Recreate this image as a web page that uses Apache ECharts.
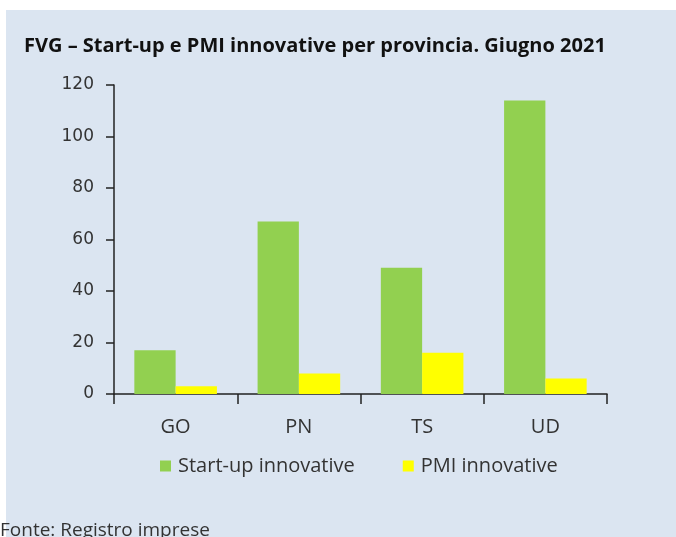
<!DOCTYPE html>
<html>
<head>
<meta charset="utf-8">
<script src="https://cdn.jsdelivr.net/npm/echarts@6/dist/echarts.min.js"></script>
<style>
  html, body { margin: 0; padding: 0; background: #ffffff; }
  #chart { width: 676px; height: 537px; }
</style>
</head>
<body>
<div id="chart"></div>
<script>
// dati
var province = ['GO', 'PN', 'TS', 'UD'];
var startup = [17, 67, 49, 114];
var pmi = [3, 8, 16, 6];
var yTicks = [0, 20, 40, 60, 80, 100, 120];

var myChart = echarts.init(document.getElementById('chart'));
var option = {
  backgroundColor: '#ffffff',
  animation: false,
  textStyle: { fontFamily: 'Open Sans' },
  graphic: [
    {
      type: 'rect',
      z: -10,
      shape: { x: 6, y: 10, width: 670, height: 527 },
      style: { fill: '#dbe5f1' }
    },
    {
      type: 'text',
      left: 0,
      top: 521,
      style: {
        text: 'Fonte: Registro imprese',
        font: '19px "Open Sans"',
        fill: '#333333'
      }
    }
  ],
  title: {
    text: 'FVG – Start-up e PMI innovative per provincia. Giugno 2021',
    left: 19,
    top: 31,
    textStyle: {
      fontFamily: 'Open Sans',
      fontSize: 20,
      fontWeight: 'bold',
      color: '#111111'
    }
  },
  legend: {
    top: 451,
    left: 155,
    itemWidth: 11,
    itemHeight: 11,
    itemGap: 48,
    icon: 'rect',
    textStyle: { fontSize: 20, color: '#333333', fontFamily: 'Open Sans', padding: [0, 0, 0, 2] },
    data: ['Start-up innovative', 'PMI innovative']
  },
  grid: {
    left: 114,
    right: 69,
    top: 85,
    bottom: 143
  },
  xAxis: {
    type: 'category',
    data: province,
    axisLine: { lineStyle: { color: '#222222', width: 1.5 } },
    axisTick: { show: true, length: 10, lineStyle: { color: '#222222', width: 1.5 } },
    axisLabel: { fontSize: 20, color: '#333333', margin: 23 }
  },
  yAxis: {
    type: 'value',
    min: 0,
    max: yTicks[yTicks.length - 1],
    interval: yTicks[1] - yTicks[0],
    axisLine: { show: true, lineStyle: { color: '#222222', width: 1.5 } },
    axisTick: { show: true, length: 8, lineStyle: { color: '#222222', width: 1.5 } },
    splitLine: { show: false },
    axisLabel: { fontSize: 17, color: '#333333', margin: 20, fontFamily: 'DejaVu Sans' }
  },
  series: [
    {
      name: 'Start-up innovative',
      type: 'bar',
      data: startup,
      barGap: '0%',
      barCategoryGap: '33%',
      itemStyle: { color: '#92d050' }
    },
    {
      name: 'PMI innovative',
      type: 'bar',
      data: pmi,
      itemStyle: { color: '#ffff00' }
    }
  ]
};
myChart.setOption(option);
</script>
</body>
</html>
